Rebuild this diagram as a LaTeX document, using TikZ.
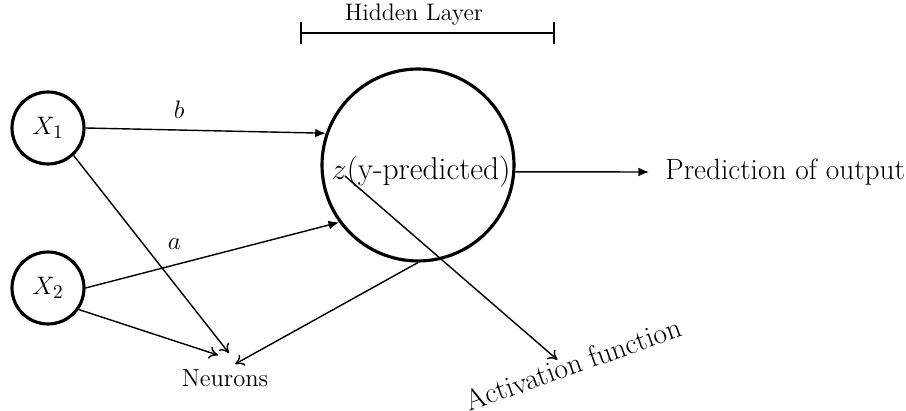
\documentclass[tikz,border=0pt]{standalone}
\usepackage{amsmath}
\usepackage{tikz}
\usetikzlibrary{arrows.meta}

\begin{document}
\begin{tikzpicture}[x=0.02cm, y=-0.02cm,
    neuron/.style={draw, circle, line width=1.8pt, inner sep=0pt},
    conn/.style={line width=0.8pt, -{To[length=5pt,width=7pt]}},
    connf/.style={line width=0.8pt, -{Latex[length=6pt,width=5pt]}}]
\useasboundingbox (0,0) rectangle (906,411);

% input neurons
\node[neuron, minimum size=1.44cm] (x1) at (48,128) {\fontsize{15}{18}\selectfont$X_1$};
\node[neuron, minimum size=1.44cm] (x2) at (48,288) {\fontsize{15}{18}\selectfont$X_2$};

% hidden neuron
\node[neuron, minimum size=3.84cm] (hid) at (418,165) {};
\node[inner sep=0pt] (zt) at (421,172) {\fontsize{17.9}{21}\selectfont$z$(y-predicted)};

% hidden layer bracket
\coordinate (hl1) at (300,33);
\coordinate (hl2) at (555,33);
\draw[line width=0.9pt, {Bar[width=0.45cm]}-{Bar[width=0.45cm]}] (hl1) -- (hl2);
\node (hl) at (414,15) {\fontsize{13.6}{16}\selectfont Hidden Layer};

% labels
\node[inner sep=0pt] (neu) at (225,378) {\fontsize{14}{16}\selectfont Neurons};
\node[inner sep=0pt, anchor=west] (out) at (665,172) {\fontsize{16.7}{20}\selectfont Prediction of output};
\node[inner sep=0pt, rotate=19.5] (act) at (573,364) {\fontsize{16.7}{20}\selectfont Activation function};

% weights
\draw[connf] (x1.east) -- (hid.161) node[pos=0.39, above=3pt] {\fontsize{15}{18}\selectfont$b$};
\draw[connf] (x2.east) -- (hid.216) node[pos=0.35, above=5pt] {\fontsize{15}{18}\selectfont$a$};

% to the neurons label
\draw[conn] (x1.-47) -- ([shift={(4,-16)}]neu.north);
\draw[conn] (x2.-35) -- ([shift={(-7,-14)}]neu.north);
\draw[conn] (hid.-90) -- ([shift={(10,-5)}]neu.north);

% activation and output
\coordinate (zs) at (345,176);
\draw[conn] (zs) -- ([shift={(-12,6)}]act.north);
\draw[connf] (hid.-4) -- ([shift={(-16,0)}]out.west);
\end{tikzpicture}
\end{document}
